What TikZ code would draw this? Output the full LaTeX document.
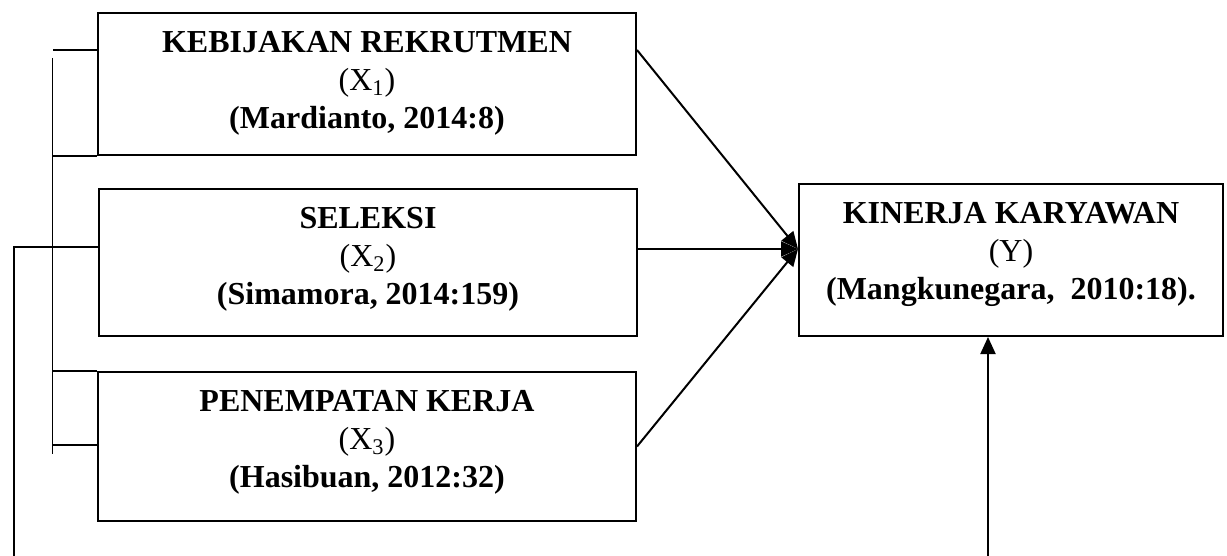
\documentclass[tikz,border=0pt]{standalone}
\usepackage{fontspec}
\setmainfont{Liberation Serif}
\usetikzlibrary{arrows.meta,calc}
\begin{document}
\begin{tikzpicture}[x=0.5pt,y=-0.5pt,
  box/.style={draw, line width=1pt, inner sep=0pt, anchor=north west},
  lbl/.style={align=center, font=\fontsize{16}{19}\selectfont, inner sep=0pt, anchor=north},
  conn/.style={line width=1pt},
  arr/.style={conn, -{Triangle[length=8.5pt,width=7.5pt]}},
  thinline/.style={line width=0.5pt}]
\useasboundingbox (0,0) rectangle (1227,556);
% boxes
\node[box, minimum width=269pt, minimum height=71pt] (x1) at (97,12) {};
\node[box, minimum width=269pt, minimum height=73.5pt] (x2) at (98,188) {};
\node[box, minimum width=269pt, minimum height=74.5pt] (x3) at (97,371) {};
\node[box, minimum width=212pt, minimum height=76pt] (y) at (798,183) {};
% labels
\node[lbl] (t1) at ($(x1.north)+(0,19)$) {\textbf{KEBIJAKAN REKRUTMEN}\\(X\textsubscript{1})\\\textbf{(Mardianto, 2014:8)}};
\node[lbl] (t2) at ($(x2.north)+(0,19)$) {\textbf{SELEKSI}\\(X\textsubscript{2})\\\textbf{(Simamora, 2014:159)}};
\node[lbl] (t3) at ($(x3.north)+(0,19)$) {\textbf{PENEMPATAN KERJA}\\(X\textsubscript{3})\\\textbf{(Hasibuan, 2012:32)}};
\node[lbl] (ty) at ($(y.north)+(0,19)$) {\textbf{KINERJA KARYAWAN}\\(Y)\\\textbf{(Mangkunegara,\ \ 2010:18).}};
% converging arrows
\coordinate (tgt) at (y.west |- 0,249);
\coordinate (s1) at (x1.east |- 0,50);
\coordinate (s2) at (x2.east |- tgt);
\draw[arr] (s1) -- (tgt);
\draw[arr] (s2) -- (tgt);
\draw[arr] (x3.east) -- (tgt);
% left bracket
\coordinate (bt) at (52,58);
\coordinate (bb) at (52,454);
\draw[thinline] (bt) -- (bb);
\coordinate (h1) at (53,50);
\draw[conn] (h1) -- (x1.west |- h1);
\draw[conn] (bt |- x1.south) -- (x1.south west);
\draw[conn] (bt |- x3.north) -- (x3.north west);
\coordinate (h4) at (52,445);
\draw[conn] (h4) -- (x3.west |- h4);
% outer feedback line
\coordinate (o1) at (x2.west |- 0,247);
\coordinate (o2) at (14,247);
\coordinate (o3) at (14,556);
\draw[conn] (o1) -- (o2) -- (o3);
\coordinate (r1) at (988,556);
\draw[arr] (r1) -- (r1 |- y.south);
\end{tikzpicture}
\end{document}
